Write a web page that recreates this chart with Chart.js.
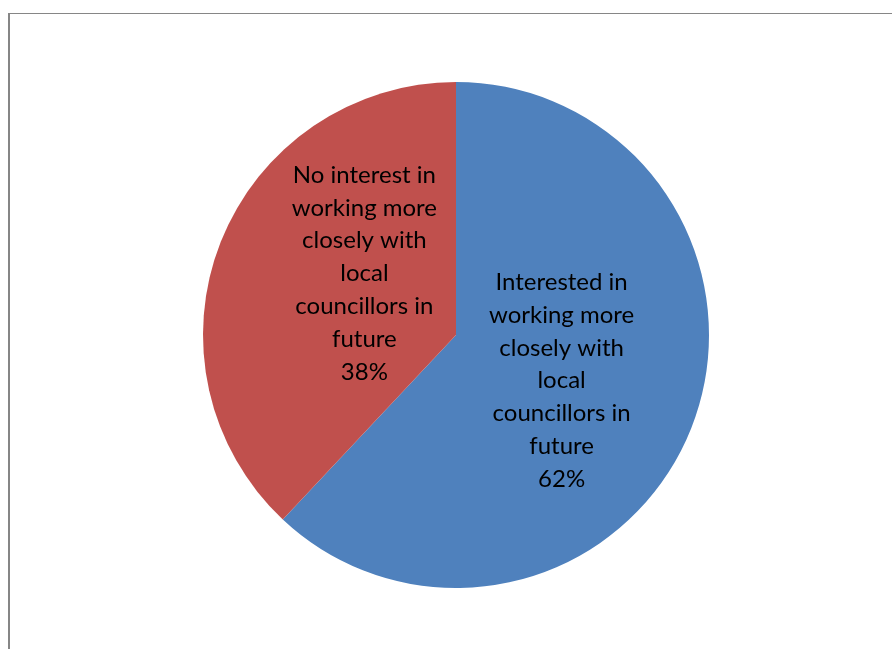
<!DOCTYPE html>
<html>
<head>
<meta charset="utf-8">
<script src="https://cdn.jsdelivr.net/npm/chart.js@4/dist/chart.umd.min.js"></script>
<style>
  html, body { margin: 0; padding: 0; background: #fff; }
  #wrap { position: relative; width: 892px; height: 649px; overflow: hidden; }
  #frame {
    position: absolute; left: 8px; top: 13px; right: -4px; bottom: -4px;
    border-top: 1.5px solid #868686; border-left: 2px solid #868686;
  }
  #pie { position: absolute; left: 0; top: 0; }
</style>
</head>
<body>
<div id="wrap">
  <div id="frame"></div>
  <canvas id="pie" width="892" height="649"></canvas>
</div>
<script>
const categories = [
  'Interested in working more closely with local councillors in future',
  'No interest in working more closely with local councillors in future'
];
const shares = [62, 38];
const sliceColors = ['#4F81BD', '#C0504D'];

// wrapped label lines for each slice, as Excel breaks them
const labelLines = [
  ['Interested in', 'working more', 'closely with', 'local', 'councillors in', 'future'],
  ['No interest in', 'working more', 'closely with', 'local', 'councillors in', 'future']
];

// draws the category + percentage inside each slice
const sliceLabels = {
  id: 'sliceLabels',
  afterDatasetsDraw(chart, args, opts) {
    const ctx = chart.ctx;
    const meta = chart.getDatasetMeta(0);
    ctx.save();
    ctx.font = opts.font;
    ctx.fillStyle = '#000';
    ctx.textAlign = 'center';
    ctx.textBaseline = 'middle';
    meta.data.forEach((arc, i) => {
      const p = arc.tooltipPosition();
      const nudge = opts.nudge[i] || [0, 0];
      const lines = labelLines[i].concat([shares[i] + '%']);
      const h = opts.lineHeight;
      const x = p.x + nudge[0];
      const y0 = p.y + nudge[1] - (lines.length - 1) * h / 2;
      lines.forEach((t, k) => ctx.fillText(t, x, y0 + k * h));
    });
    ctx.restore();
  }
};

new Chart(document.getElementById('pie'), {
  type: 'pie',
  data: {
    labels: categories,
    datasets: [{
      data: shares,
      backgroundColor: sliceColors,
      borderWidth: 0
    }]
  },
  options: {
    responsive: false,
    animation: false,
    layout: { padding: { top: 82, bottom: 61, left: 20, right: 0 } },
    plugins: {
      legend: { display: false },
      tooltip: { enabled: false },
      sliceLabels: {
        font: '24px Lato',
        lineHeight: 32.8,
        nudge: [[-12, -1], [26, -15]]
      }
    }
  },
  plugins: [sliceLabels]
});
</script>
</body>
</html>
